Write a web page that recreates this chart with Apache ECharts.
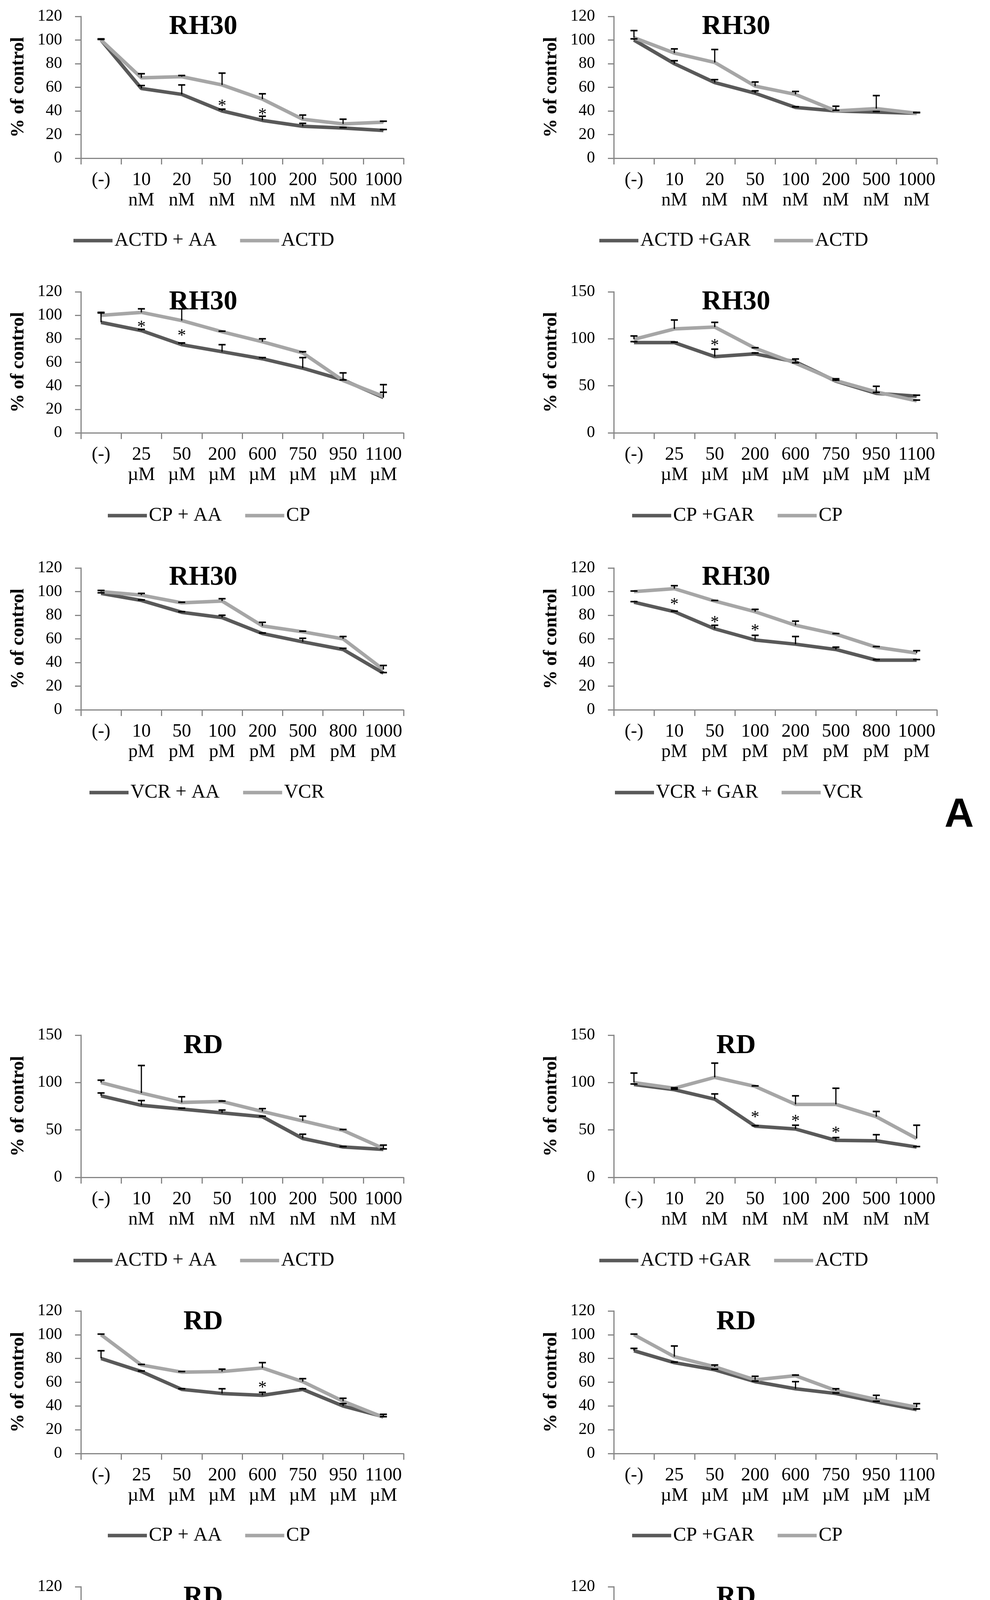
<!DOCTYPE html>
<html><head><meta charset="utf-8">
<script src="https://cdn.jsdelivr.net/npm/echarts@6/dist/echarts.min.js"></script>
<style>html,body{margin:0;padding:0;background:#fff}#c{width:2534px;height:4710px}</style>
</head><body><div id="c"></div>
<script>
// ---------- categories ----------
const actdDoses = ['(-)','10','20','50','100','200','500','1000'];
const cpDoses   = ['(-)','25','50','200','600','750','950','1100'];
const vcrDoses  = ['(-)','10','50','100','200','500','800','1000'];
const actdUnit = 'nM', cpUnit = 'µM', vcrUnit = 'pM';

// ---------- RH30 ----------
const rh30ActdAA      = [100, 59, 54, 40, 32, 27, 25.5, 23.5];
const rh30ActdAAErr   = [1, 2.5, 8, 1.5, 3.5, 2.5, 0.5, 0.8];
const rh30ActdA       = [100, 68, 69, 62, 50, 33, 29, 30.5];
const rh30ActdAErr    = [0.5, 3.5, 1, 10, 4.5, 3.5, 4, 0.8];
const rh30ActdAAStars = [[3, 47], [4, 40]];

const rh30ActdGAR     = [100, 80, 64, 55, 43, 40, 39, 38];
const rh30ActdGARErr  = [1, 2.5, 2.5, 2, 0.5, 0.5, 0.5, 0.8];
const rh30ActdG       = [102, 89, 81, 61, 54, 40, 42, 38];
const rh30ActdGErr    = [6, 3.5, 11, 3.5, 2.5, 4, 11, 0.5];
const rh30ActdGARStars = [];

const rh30CpAA        = [94, 87, 75, 69, 63, 55, 45, 30];
const rh30CpAAErr     = [8, 1, 1.5, 6, 1, 9, 6, 4.5];
const rh30CpA         = [100, 102.5, 95.5, 86, 77.5, 68, 44.5, 31];
const rh30CpAErr      = [2.5, 3, 10, 0.5, 2.5, 1, 0.5, 10];
const rh30CpAAStars   = [[1, 93], [2, 85.5]];

const rh30CpGAR       = [96, 96, 81, 84, 75.5, 55, 42, 39];
const rh30CpGARErr    = [1, 0.5, 8, 1, 3, 2.5, 1, 1];
const rh30CpG         = [99.5, 110.5, 112.5, 90, 74, 55.5, 43.5, 34];
const rh30CpGErr      = [3.5, 9.5, 5, 0.5, 0.5, 0.5, 6, 0.8];
const rh30CpGARStars  = [[2, 96.5]];

const rh30VcrAA       = [98.5, 92.5, 82.5, 78, 64.5, 57.5, 51, 31];
const rh30VcrAAErr    = [0.5, 0.5, 0.5, 2, 0.5, 3, 1, 0.5];
const rh30VcrA        = [100, 97, 90.5, 92, 71, 66, 60, 34];
const rh30VcrAErr     = [1, 1.5, 0.5, 2, 3, 0.5, 2, 3.5];
const rh30VcrAAStars  = [];

const rh30VcrGAR      = [91, 83, 68.5, 59, 55.5, 51, 42, 42];
const rh30VcrGARErr   = [0.5, 0.5, 3, 4, 6.5, 2, 0.5, 0.5];
const rh30VcrG        = [100, 102.5, 92, 83, 71.5, 64, 53, 48];
const rh30VcrGErr     = [0.5, 2.5, 0.5, 2, 3.5, 0.5, 0.5, 2];
const rh30VcrGARStars = [[1, 92], [2, 77], [3, 70]];

// ---------- RD ----------
const rdActdAA        = [86, 76, 72, 68, 64, 41, 32, 29.5];
const rdActdAAErr     = [3, 5, 1, 3, 0.5, 4.5, 0.5, 0.5];
const rdActdA         = [100, 89, 79, 80, 69.5, 59.5, 49.5, 30.5];
const rdActdAErr      = [2.5, 29, 6, 0.5, 3, 5, 1, 3.5];
const rdActdAAStars   = [];

const rdActdGAR       = [98, 92.5, 82.5, 54, 51, 39, 38.5, 32];
const rdActdGARErr    = [0.5, 0.5, 5.5, 0.5, 4, 3, 6.5, 0.5];
const rdActdG         = [100, 94, 105.5, 96, 77, 77, 64, 41];
const rdActdGErr      = [10, 0.5, 15, 0.5, 9, 17, 5.5, 14];
const rdActdGARStars  = [[3, 67], [4, 63], [5, 50.5]];

const rdCpAA          = [80, 69, 54, 50.5, 49, 54, 40, 31];
const rdCpAAErr       = [6.5, 0.5, 0.5, 4, 2.5, 0.5, 2, 2];
const rdCpA           = [100, 74.5, 68.5, 69, 72, 60.5, 44, 30.5];
const rdCpAErr        = [0.5, 0.5, 0.5, 2, 4.5, 2.5, 2.5, 0.5];
const rdCpAAStars     = [[4, 58.5]];

const rdCpGAR         = [86.5, 76.5, 70.5, 60.5, 54.5, 50.5, 43.5, 37];
const rdCpGARErr      = [2, 0.5, 0.5, 0.5, 6, 0.5, 0.5, 0.5];
const rdCpG           = [100, 81.5, 73, 62, 65.5, 53, 45.5, 39];
const rdCpGErr        = [0.5, 9, 1.5, 3, 0.5, 1.5, 3.5, 3];
const rdCpGARStars    = [];

const rdVcrAA         = [79.5, 80, 69.5, 65.5, 60.5, 57, 49.5, 38];
const rdVcrAAErr      = [4.5, 5, 0.5, 0.5, 0.5, 2.5, 2.5, 1.5];
const rdVcrA          = [100, 89.5, 83.5, 75, 73, 63.5, 59.5, 45.5];
const rdVcrAErr       = [0.5, 0.5, 2, 6, 6, 0.5, 0.5, 6.5];
const rdVcrAAStars    = [];

const rdVcrGAR        = [89, 80.5, 73, 69.5, 54.5, 55.5, 49, 28.5];
const rdVcrGARErr     = [0.5, 5, 0.5, 0.5, 2.5, 2.5, 0.5, 2];
const rdVcrG          = [100, 94, 86, 84, 79.5, 69.5, 52, 47];
const rdVcrGErr       = [0.5, 0.5, 0.5, 5, 8, 0.5, 0.5, 2.5];
const rdVcrGARStars   = [[4, 62]];

// ---------- panel definitions ----------
const panels = [
  {t:'RH30', dn:'ACTD + AA',  ln:'ACTD', cat:actdDoses, u:actdUnit, d:rh30ActdAA,  de:rh30ActdAAErr,  l:rh30ActdA, le:rh30ActdAErr, s:rh30ActdAAStars,  max:120, step:20},
  {t:'RH30', dn:'ACTD +GAR',  ln:'ACTD', cat:actdDoses, u:actdUnit, d:rh30ActdGAR, de:rh30ActdGARErr, l:rh30ActdG, le:rh30ActdGErr, s:rh30ActdGARStars, max:120, step:20},
  {t:'RH30', dn:'CP + AA',    ln:'CP',   cat:cpDoses,   u:cpUnit,   d:rh30CpAA,    de:rh30CpAAErr,    l:rh30CpA,   le:rh30CpAErr,   s:rh30CpAAStars,    max:120, step:20},
  {t:'RH30', dn:'CP +GAR',    ln:'CP',   cat:cpDoses,   u:cpUnit,   d:rh30CpGAR,   de:rh30CpGARErr,   l:rh30CpG,   le:rh30CpGErr,   s:rh30CpGARStars,   max:150, step:50},
  {t:'RH30', dn:'VCR + AA',   ln:'VCR',  cat:vcrDoses,  u:vcrUnit,  d:rh30VcrAA,   de:rh30VcrAAErr,   l:rh30VcrA,  le:rh30VcrAErr,  s:rh30VcrAAStars,   max:120, step:20},
  {t:'RH30', dn:'VCR + GAR',  ln:'VCR',  cat:vcrDoses,  u:vcrUnit,  d:rh30VcrGAR,  de:rh30VcrGARErr,  l:rh30VcrG,  le:rh30VcrGErr,  s:rh30VcrGARStars,  max:120, step:20},
  {t:'RD',   dn:'ACTD + AA',  ln:'ACTD', cat:actdDoses, u:actdUnit, d:rdActdAA,    de:rdActdAAErr,    l:rdActdA,   le:rdActdAErr,   s:rdActdAAStars,    max:150, step:50},
  {t:'RD',   dn:'ACTD +GAR',  ln:'ACTD', cat:actdDoses, u:actdUnit, d:rdActdGAR,   de:rdActdGARErr,   l:rdActdG,   le:rdActdGErr,   s:rdActdGARStars,   max:150, step:50},
  {t:'RD',   dn:'CP + AA',    ln:'CP',   cat:cpDoses,   u:cpUnit,   d:rdCpAA,      de:rdCpAAErr,      l:rdCpA,     le:rdCpAErr,     s:rdCpAAStars,      max:120, step:20},
  {t:'RD',   dn:'CP +GAR',    ln:'CP',   cat:cpDoses,   u:cpUnit,   d:rdCpGAR,     de:rdCpGARErr,     l:rdCpG,     le:rdCpGErr,     s:rdCpGARStars,     max:120, step:20},
  {t:'RD',   dn:'VCR + AA',   ln:'VCR',  cat:vcrDoses,  u:vcrUnit,  d:rdVcrAA,     de:rdVcrAAErr,     l:rdVcrA,    le:rdVcrAErr,    s:rdVcrAAStars,     max:120, step:20},
  {t:'RD',   dn:'VCR + GAR',  ln:'VCR',  cat:vcrDoses,  u:vcrUnit,  d:rdVcrGAR,    de:rdVcrGARErr,    l:rdVcrG,    le:rdVcrGErr,    s:rdVcrGARStars,    max:120, step:20}
];

// ---------- layout (pixels) ----------
const rowTop   = [42, 747, 1454, 2650, 3356, 4062];
const rowH     = [363, 361, 363, 364, 365, 363];
const titleY   = [69, 774, 1479, 2678, 3385, 4090];
const legendY  = [618, 1322, 2031, 3229, 3933, 4640];
const colLeft  = [207, 1571];
const colW     = [826, 827];
const titleX   = [520, 1884];
const legendLeft = [188, 1534, 276, 1618, 229, 1574, 188, 1534, 276, 1618, 229, 1575];

const FONT = '"Liberation Serif","Times New Roman",serif';
const DARK = '#595959', LIGHT = '#A6A6A6', AXIS = '#868686';

function errRender(params, api) {
  const x = api.value(0), v = api.value(1), e = api.value(2);
  const p0 = api.coord([x, v]);
  const p1 = api.coord([x, v + e]);
  return {type: 'group', children: [
    {type: 'line', shape: {x1: p0[0], y1: p0[1], x2: p1[0], y2: p1[1]}, style: {stroke: '#000', lineWidth: 3}},
    {type: 'line', shape: {x1: p1[0] - 9, y1: p1[1], x2: p1[0] + 9, y2: p1[1]}, style: {stroke: '#000', lineWidth: 4}}
  ]};
}
function starRender(params, api) {
  const p = api.coord([api.value(0), api.value(1)]);
  return {type: 'text', x: p[0], y: p[1] + 10,
    style: {text: '*', font: '44px ' + FONT, fill: '#000', textAlign: 'center', textVerticalAlign: 'middle', align: 'center', verticalAlign: 'middle'}};
}

const grid = [], xAxis = [], yAxis = [], series = [], legend = [], graphic = [];
panels.forEach((p, i) => {
  const row = Math.floor(i / 2), col = i % 2;
  grid.push({left: colLeft[col], top: rowTop[row], width: colW[col], height: rowH[row], containLabel: false});
  xAxis.push({
    type: 'category', gridIndex: i, data: p.cat, boundaryGap: true,
    axisLine: {lineStyle: {color: AXIS, width: 3}},
    axisTick: {show: true, length: 16, lineStyle: {color: AXIS, width: 3}},
    axisLabel: {interval: 0, hideOverlap: false, margin: 30, fontFamily: FONT, fontSize: 48, lineHeight: 52, color: '#000',
      formatter: v => v === '(-)' ? '(-)' : v + '\n' + p.u}
  });
  yAxis.push({
    type: 'value', gridIndex: i, min: 0, max: p.max, interval: p.step,
    name: '% of control', nameLocation: 'middle', nameGap: 135,
    nameTextStyle: {fontFamily: FONT, fontWeight: 'bold', fontSize: 48, color: '#000'},
    axisLine: {show: true, lineStyle: {color: AXIS, width: 3}},
    axisTick: {show: true, length: 15, lineStyle: {color: AXIS, width: 3}},
    splitLine: {show: false},
    axisLabel: {margin: 48, fontFamily: FONT, fontSize: 42, color: '#000'}
  });
  series.push({type: 'line', name: p.dn, xAxisIndex: i, yAxisIndex: i, data: p.d, symbol: 'none', z: 2,
    color: DARK, itemStyle: {color: DARK}, lineStyle: {color: DARK, width: 9}, silent: true});
  series.push({type: 'line', name: p.ln, xAxisIndex: i, yAxisIndex: i, data: p.l, symbol: 'none', z: 3,
    color: LIGHT, itemStyle: {color: LIGHT}, lineStyle: {color: LIGHT, width: 9}, silent: true});
  series.push({type: 'custom', name: 'err-d-' + i, xAxisIndex: i, yAxisIndex: i, renderItem: errRender, z: 4, silent: true, clip: false,
    encode: {x: 0, y: 1}, data: p.d.map((v, k) => [k, v, p.de[k]])});
  series.push({type: 'custom', name: 'err-l-' + i, xAxisIndex: i, yAxisIndex: i, renderItem: errRender, z: 4, silent: true, clip: false,
    encode: {x: 0, y: 1}, data: p.l.map((v, k) => [k, v, p.le[k]])});
  if (p.s.length) {
    series.push({type: 'custom', name: 'star-' + i, xAxisIndex: i, yAxisIndex: i, renderItem: starRender, z: 5, silent: true, clip: false,
      encode: {x: 0, y: 1}, data: p.s});
  }
  legend.push({data: [p.dn, p.ln], left: legendLeft[i], top: legendY[row] - 27, orient: 'horizontal', padding: 0,
    icon: 'rect', itemWidth: 100, itemHeight: 9, itemGap: 60, selectedMode: false,
    textStyle: {fontFamily: FONT, fontSize: 50, color: '#000'}});
  graphic.push({type: 'text', x: titleX[col], y: titleY[row], silent: true,
    style: {text: p.t, font: 'bold 70px ' + FONT, fill: '#000', textAlign: 'center', textVerticalAlign: 'middle', align: 'center', verticalAlign: 'middle'}});
});
graphic.push({type: 'text', x: 2455, y: 2087, silent: true,
  style: {text: 'A', font: 'bold 104px "Liberation Sans", Arial, sans-serif', fill: '#000', textAlign: 'center', textVerticalAlign: 'middle', align: 'center', verticalAlign: 'middle'}});
graphic.push({type: 'text', x: 2492, y: 4656, silent: true,
  style: {text: 'B', font: 'bold 104px "Liberation Sans", Arial, sans-serif', fill: '#000', textAlign: 'center', textVerticalAlign: 'middle', align: 'center', verticalAlign: 'middle'}});

const chart = echarts.init(document.getElementById('c'), null, {renderer: 'canvas'});
chart.setOption({
  animation: false,
  backgroundColor: '#fff',
  grid, xAxis, yAxis, series, legend, graphic
});
</script>
</body></html>
